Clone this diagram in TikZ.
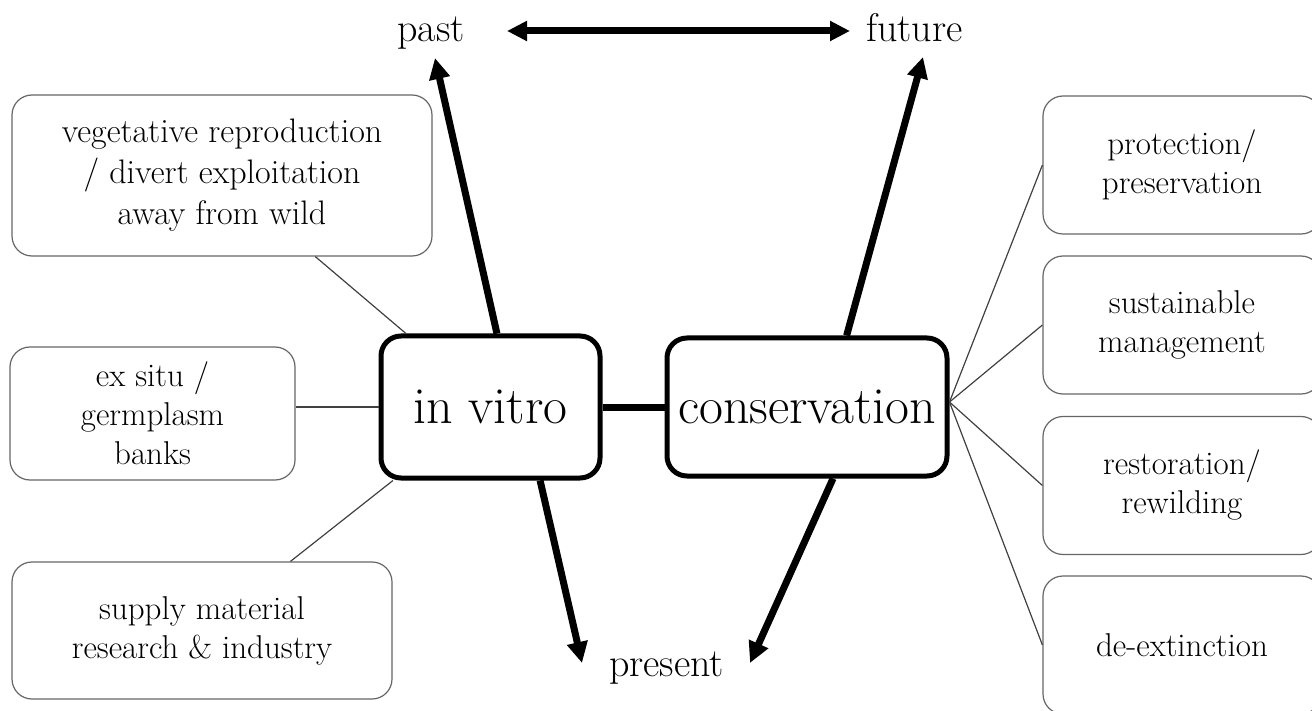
\documentclass[tikz,border=0pt]{standalone}
\usetikzlibrary{arrows.meta}
\begin{document}
\begin{tikzpicture}[x=0.5pt,y=-0.5pt,
  big/.style={draw,line width=2.5pt,rounded corners=10pt,align=center,font=\fontsize{26}{30}\selectfont,inner sep=0pt},
  small/.style={draw=black!60,line width=0.6pt,rounded corners=10pt,align=center,font=\fontsize{16.5}{19.5}\selectfont,inner sep=0pt},
  lbl/.style={inner sep=0pt,anchor=base,font=\fontsize{20}{24}\selectfont},
  thinline/.style={draw=black!75,line width=0.6pt},
  arr/.style={line width=3.5pt,-{Triangle[length=10.5pt,width=10pt]}},
  dbl/.style={line width=3.5pt,{Triangle[length=10pt,width=9.5pt]}-{Triangle[length=10pt,width=9.5pt]}}
]
\useasboundingbox (0,0) rectangle (1312,711);
\clip (0,0) rectangle (1312,711);

% central boxes
\node[big,minimum width=109.5pt,minimum height=71pt] (invitro) at (490.5,407) {in vitro};
\node[big,minimum width=140pt,minimum height=69pt] (cons) at (807,407) {conservation};

% left boxes
\node[small,minimum width=210pt,minimum height=80.5pt,font=\fontsize{17}{20.5}\selectfont] (b1) at (222,175.5) {vegetative reproduction\\ / divert exploitation\\ away from wild};
\node[small,minimum width=142.5pt,minimum height=66.5pt] (b2) at (152.5,413.5) {ex situ /\\ germplasm\\ banks};
\node[small,minimum width=190pt,minimum height=68.5pt] (b3) at (202,630.5) {supply material\\ research \& industry};

% right boxes
\node[small,minimum width=139pt,minimum height=69pt] (r1) at (1182,165) {protection/\\ preservation};
\node[small,minimum width=139pt,minimum height=69pt] (r2) at (1182,325) {sustainable\\ management};
\node[small,minimum width=139pt,minimum height=69pt] (r3) at (1182,485.5) {restoration/\\ rewilding};
\node[small,minimum width=139pt,minimum height=69pt] (r4) at (1182,645) {de-extinction};

% time labels
\node[lbl] (past) at (431,42) {past};
\node[lbl] (future) at (914.5,42) {future};
\node[lbl] (present) at (666.5,676) {present};

\coordinate (pastTip) at (435,58);
\coordinate (futureTip) at (923,57);
\coordinate (presL) at (582,663);
\coordinate (presR) at (750,663);

% connectors
\draw[line width=3.5pt] (invitro.east) -- (cons.west);
\draw[arr] (invitro.85) -- (pastTip);
\draw[arr] (cons.61) -- (futureTip);
\draw[arr] (invitro.-56) -- (presL);
\draw[arr] (cons.-70) -- (presR);
\draw[dbl] ([xshift=38pt,yshift=5.5pt]past.base) -- ([xshift=-32.25pt,yshift=5.5pt]future.base);

\draw[thinline] (b1.-41) -- (invitro.139);
\draw[thinline] (b2.east |- invitro.west) -- (invitro.west);
\draw[thinline] (b3.38) -- (invitro.217);
\draw[thinline] (cons.2) -- (r1.west);
\draw[thinline] (cons.2) -- (r2.west);
\draw[thinline] (cons.2) -- (r3.west);
\draw[thinline] (cons.2) -- (r4.west);
\end{tikzpicture}
\end{document}
